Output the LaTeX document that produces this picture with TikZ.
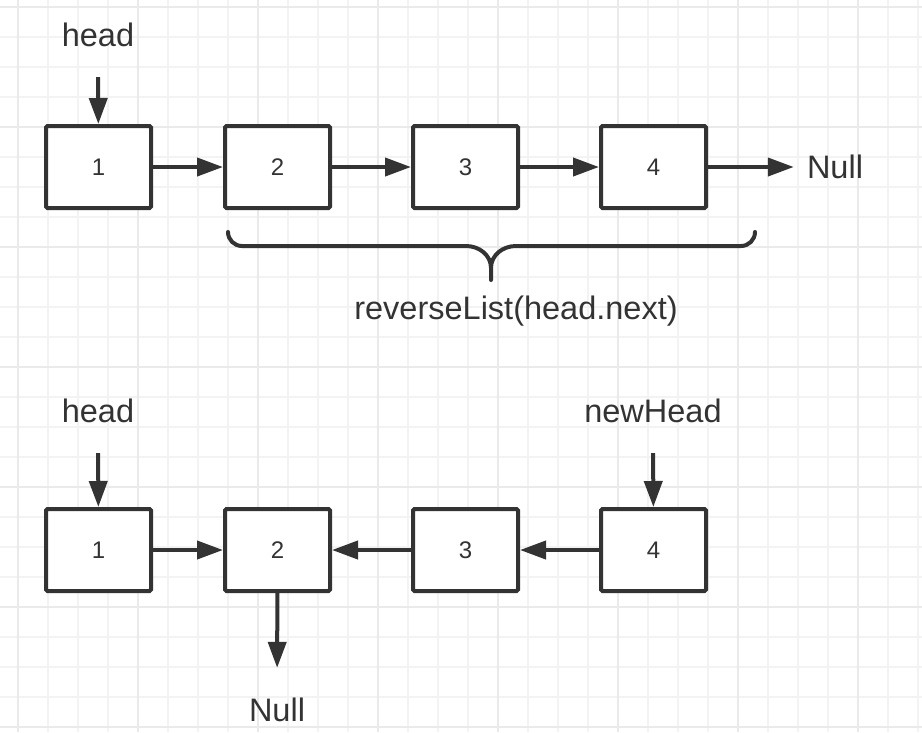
\documentclass[tikz,border=0pt]{standalone}
\usepackage{fontspec}
\setmainfont{Liberation Sans}
\usetikzlibrary{arrows.meta,positioning}
\definecolor{InkDark}{HTML}{333333}
\definecolor{GridMinor}{HTML}{F3F3F3}
\definecolor{GridMajor}{HTML}{EAEAEA}

\begin{document}
\begin{tikzpicture}[x=1pt,y=-1pt,
  box/.style={draw=InkDark,fill=white,line width=4pt,rounded corners=1.5pt,
    minimum width=105pt,minimum height=82pt,inner sep=0pt,
    font=\fontsize{24}{28}\selectfont,text=InkDark},
  ptr/.style={-{Triangle[length=26pt,width=18pt]},line width=4pt,InkDark},
  lbl/.style={font=\fontsize{32.5}{38}\selectfont,text=InkDark,inner sep=0pt}]
  \useasboundingbox[fill=white] (0,0) rectangle (922,732);
  % grid
  \foreach \k in {0,...,30}
    \pgfmathsetmacro{\gx}{18+30*\k}
    \draw[line width=2pt,GridMinor] (\gx,0) -- (\gx,732);
  \foreach \k in {0,...,24}
    \pgfmathsetmacro{\gy}{7+30*\k}
    \draw[line width=2pt,GridMinor] (0,\gy) -- (922,\gy);
  \foreach \gx in {18,138,...,918}
    \draw[line width=2pt,GridMajor] (\gx,0) -- (\gx,732);
  \foreach \gy in {7,127,...,727}
    \draw[line width=2pt,GridMajor] (0,\gy) -- (922,\gy);

  % top list
  \node[box] (a1) at (98.5,167)  {1};
  \node[box] (a2) at (277.5,167) {2};
  \node[box] (a3) at (465.5,167) {3};
  \node[box] (a4) at (653.5,167) {4};
  \node[lbl] (ha) at (98,35) {head};
  \node[lbl] (na) at (835,167) {Null};
  \draw[ptr,shorten <=30pt] (ha) -- (a1);
  \draw[ptr] (a1) -- (a2);
  \draw[ptr] (a2) -- (a3);
  \draw[ptr] (a3) -- (a4);
  \draw[ptr,shorten >=13pt] (a4) -- (na);
  % brace
  \draw[line width=4pt,InkDark,line cap=round]
    (228,232) to[out=-90,in=180] (242,246) -- (466,246)
      to[out=0,in=90] (491,268) -- (491,280)
    (491,268) to[out=90,in=180] (516,246) -- (741,246)
      to[out=0,in=-90] (755,232);
  \node[lbl] (call) at (516,311) {reverseList(head.next)};

  % bottom list
  \node[box] (b1) at (98.5,550)  {1};
  \node[box] (b2) at (277.5,550) {2};
  \node[box] (b3) at (465.5,550) {3};
  \node[box] (b4) at (653.5,550) {4};
  \node[lbl] (hb) at (98,411) {head};
  \node[lbl] (nh) at (653,411) {newHead};
  \node[lbl] (nb) at (277,710) {Null};
  \draw[ptr,shorten <=30pt] (hb) -- (b1);
  \draw[ptr,shorten <=30pt] (nh) -- (b4);
  \draw[ptr] (b1) -- (b2);
  \draw[ptr] (b3) -- (b2);
  \draw[ptr] (b4) -- (b3);
  \draw[ptr,shorten >=30pt] (b2) -- (nb);
\end{tikzpicture}
\end{document}
